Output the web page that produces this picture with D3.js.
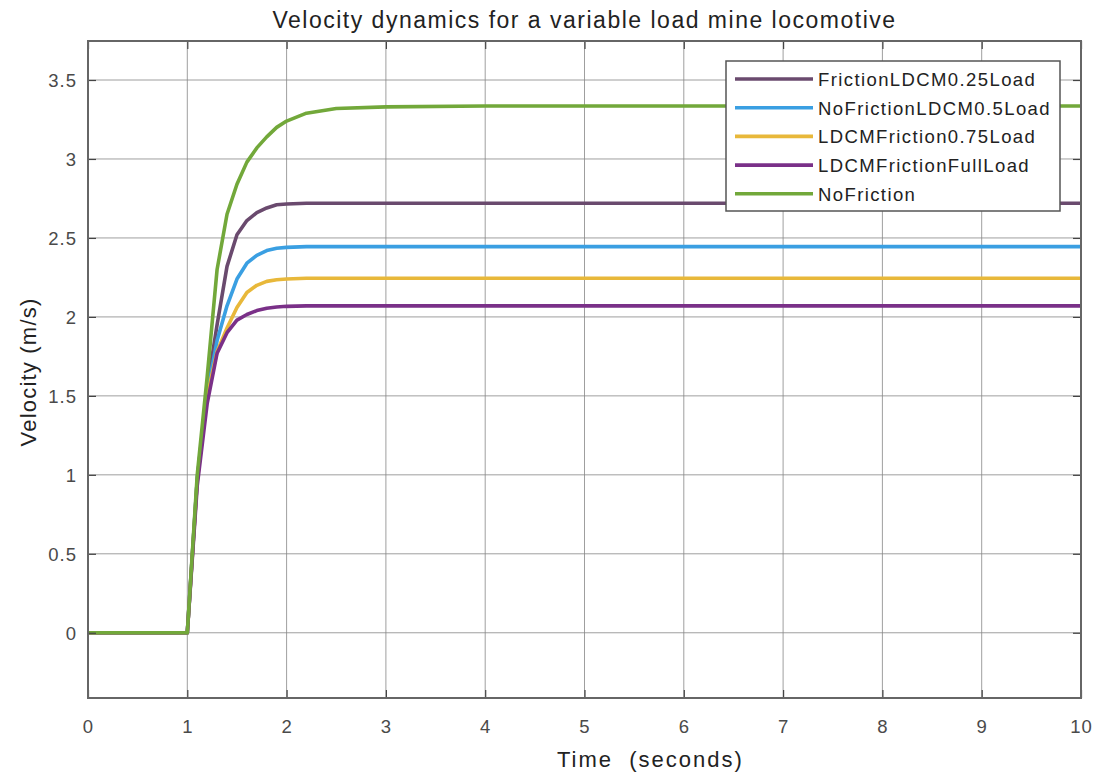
<!DOCTYPE html>
<html>
<head>
<meta charset="utf-8">
<script src="https://cdn.jsdelivr.net/npm/d3@7"></script>
<style>
  html, body { margin: 0; padding: 0; background: #fff; }
  svg { display: block; font-family: "Liberation Sans", Arial, sans-serif; }
</style>
</head>
<body>
<svg id="chart" width="1102" height="774"></svg>
<script>
// ---- data ----
const timeValues = [0, 1, 1.1, 1.2, 1.3, 1.4, 1.5, 1.6, 1.7, 1.8, 1.9, 2.0, 2.2, 2.5, 3, 4, 5, 6, 7, 8, 9, 10];
const frictionLDCM025 = [0, 0, 0.97, 1.55, 1.95, 2.32, 2.52, 2.61, 2.66, 2.69, 2.71, 2.715, 2.72, 2.72, 2.72, 2.72, 2.72, 2.72, 2.72, 2.72, 2.72, 2.72];
const noFrictionLDCM05 = [0, 0, 0.97, 1.52, 1.85, 2.07, 2.24, 2.34, 2.39, 2.42, 2.435, 2.44, 2.445, 2.445, 2.445, 2.445, 2.445, 2.445, 2.445, 2.445, 2.445, 2.445];
const ldcmFriction075 = [0, 0, 0.96, 1.50, 1.78, 1.93, 2.06, 2.155, 2.20, 2.225, 2.235, 2.24, 2.245, 2.245, 2.245, 2.245, 2.245, 2.245, 2.245, 2.245, 2.245, 2.245];
const ldcmFrictionFull = [0, 0, 0.93, 1.45, 1.77, 1.90, 1.98, 2.015, 2.04, 2.055, 2.063, 2.067, 2.07, 2.07, 2.07, 2.07, 2.07, 2.07, 2.07, 2.07, 2.07, 2.07];
const noFriction = [0, 0, 1.00, 1.62, 2.30, 2.65, 2.84, 2.98, 3.07, 3.14, 3.20, 3.24, 3.29, 3.32, 3.33, 3.335, 3.335, 3.335, 3.335, 3.335, 3.335, 3.335];

const seriesNames = ["FrictionLDCM0.25Load", "NoFrictionLDCM0.5Load", "LDCMFriction0.75Load", "LDCMFrictionFullLoad", "NoFriction"];
const seriesValues = [frictionLDCM025, noFrictionLDCM05, ldcmFriction075, ldcmFrictionFull, noFriction];
const seriesColors = ["#6a4a6e", "#3a9fe2", "#e8b83a", "#7a3088", "#72a83a"];

const xTicks = [0, 1, 2, 3, 4, 5, 6, 7, 8, 9, 10];
const yTicks = [0, 0.5, 1, 1.5, 2, 2.5, 3, 3.5];

const titleText = "Velocity dynamics for a variable load mine locomotive";
const xLabelText = "Time  (seconds)";
const yLabelText = "Velocity (m/s)";

// ---- layout ----
const L = 88, R = 1081, T = 41, B = 698;
const svg = d3.select("#chart");
const x = d3.scaleLinear().domain([0, 10]).range([L, R]);
const y = d3.scaleLinear().domain([-0.413, 3.747]).range([B, T]);

// grid
const grid = svg.append("g");
grid.selectAll("line.vx").data(xTicks).join("line")
  .attr("x1", d => x(d)).attr("x2", d => x(d)).attr("y1", T).attr("y2", B)
  .attr("stroke", "#888").attr("stroke-width", 1).attr("opacity", 0.8);
grid.selectAll("line.hy").data(yTicks).join("line")
  .attr("x1", L).attr("x2", R).attr("y1", d => y(d)).attr("y2", d => y(d))
  .attr("stroke", "#888").attr("stroke-width", 1).attr("opacity", 0.8);

// lines
const line = d3.line().x((d, i) => x(timeValues[i])).y(d => y(d));
svg.append("g").selectAll("path").data(seriesValues).join("path")
  .attr("d", d => line(d))
  .attr("fill", "none")
  .attr("stroke", (d, i) => seriesColors[i])
  .attr("stroke-width", 3.6)
  .attr("stroke-linejoin", "round");

// axes (ticks inward)
const xAxis = svg.append("g").attr("transform", `translate(0,${B})`)
  .call(d3.axisBottom(x).tickValues(xTicks).tickSize(-8).tickPadding(18).tickFormat(d3.format("d")));
const xAxisTop = svg.append("g").attr("transform", `translate(0,${T})`)
  .call(d3.axisTop(x).tickValues(xTicks).tickSize(-8).tickFormat(""));
const yAxis = svg.append("g").attr("transform", `translate(${L},0)`)
  .call(d3.axisLeft(y).tickValues(yTicks).tickSize(-8).tickPadding(11).tickFormat(d => d3.format("")(d)));
const yAxisRight = svg.append("g").attr("transform", `translate(${R},0)`)
  .call(d3.axisRight(y).tickValues(yTicks).tickSize(-8).tickFormat(""));
[xAxis, xAxisTop, yAxis, yAxisRight].forEach(g => {
  g.select(".domain").remove();
  g.selectAll(".tick line").attr("stroke", "#444").attr("stroke-width", 1.2);
  g.selectAll(".tick text").attr("fill", "#4a4a4a")
    .attr("font-size", null).style("font-size", "18.5px").style("letter-spacing", "1px");
});
xAxis.selectAll(".tick text").attr("dy", "0.71em").attr("y", 22);
yAxis.selectAll(".tick text").attr("dy", "0.36em");

// box
svg.append("rect").attr("x", L).attr("y", T).attr("width", R - L).attr("height", B - T)
  .attr("fill", "none").attr("stroke", "#666").attr("stroke-width", 2);

// title and labels
svg.append("text").attr("x", (L + R) / 2).attr("y", 28).attr("text-anchor", "middle")
  .style("font-size", "23px").style("letter-spacing", "1.5px").attr("fill", "#222").text(titleText);
svg.append("text").attr("x", 557).attr("y", 767).attr("text-anchor", "start")
  .style("font-size", "22px").style("letter-spacing", "2px").attr("fill", "#222")
  .style("white-space", "pre").text(xLabelText);
svg.append("text").attr("transform", `translate(36,${372}) rotate(-90)`)
  .attr("text-anchor", "middle").style("font-size", "22px").style("letter-spacing", "1.2px")
  .attr("fill", "#222").text(yLabelText);

// legend
const lg = svg.append("g");
lg.append("rect").attr("x", 726).attr("y", 61).attr("width", 334).attr("height", 150)
  .attr("fill", "#fff").attr("stroke", "#555").attr("stroke-width", 1.5);
const rowY = i => 79 + i * 28.7;
lg.selectAll("line.l").data(seriesNames).join("line")
  .attr("x1", 735).attr("x2", 813).attr("y1", (d, i) => rowY(i)).attr("y2", (d, i) => rowY(i))
  .attr("stroke", (d, i) => seriesColors[i]).attr("stroke-width", 3.6);
lg.selectAll("text").data(seriesNames).join("text")
  .attr("x", 818).attr("y", (d, i) => rowY(i) + 7)
  .style("font-size", "18.5px").style("letter-spacing", "1.4px").attr("fill", "#222").text(d => d);
</script>
</body>
</html>
